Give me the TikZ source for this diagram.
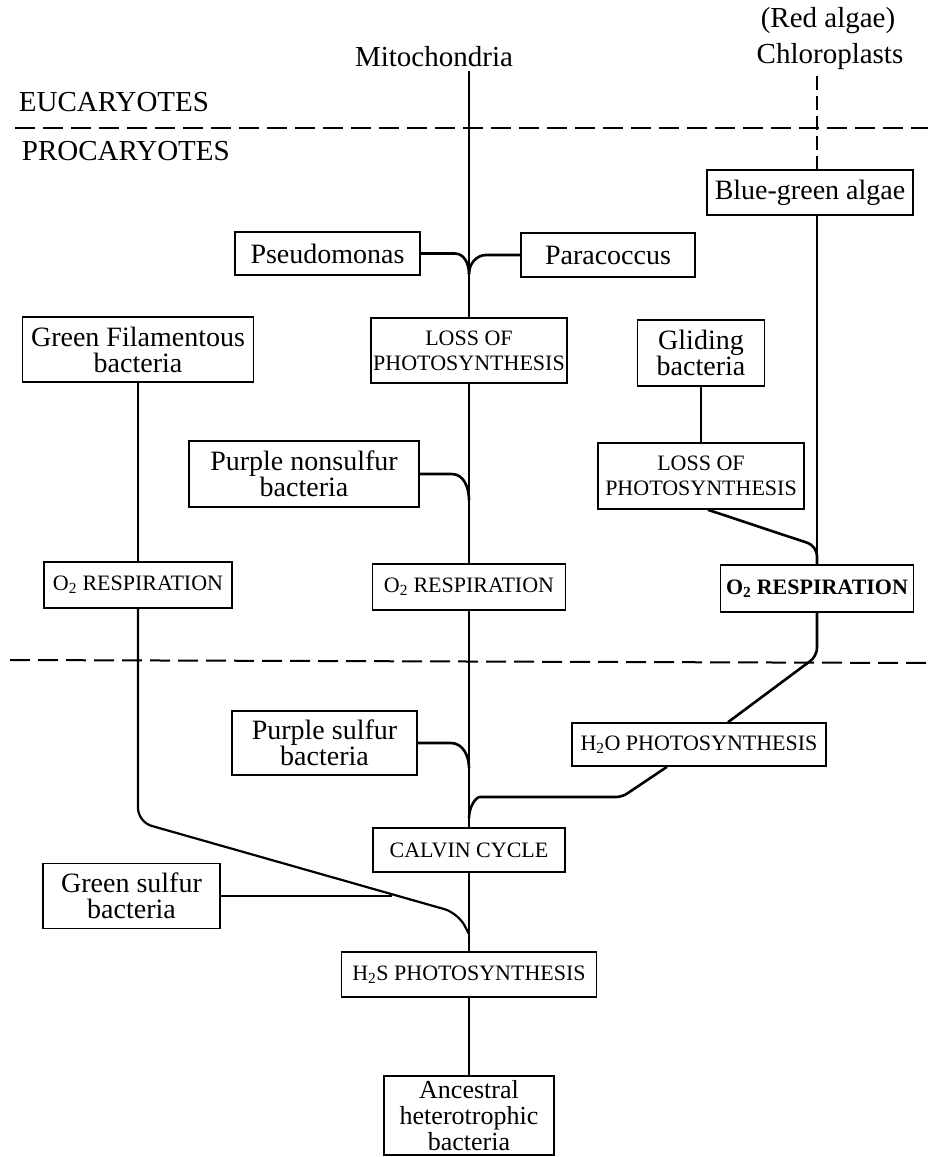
\documentclass[tikz,border=0pt]{standalone}
\usepackage{fontspec}
\setmainfont{Liberation Serif}

\begin{document}
\begin{tikzpicture}[x=1pt,y=-1pt,line width=1.8pt,
    box/.style 2 args={draw,line width=1.6pt,minimum width=#1,minimum height=#2,inner sep=1pt,align=center},
    namebox/.style 2 args={box={#1}{#2},font=\fontsize{28}{26}\selectfont},
    capsbox/.style 2 args={box={#1}{#2},font=\fontsize{22}{25}\selectfont},
    heading/.style={inner sep=0pt,font=\fontsize{29}{29}\selectfont},
    branch/.style={line width=2.6pt},
    divider/.style={line width=2pt,dash pattern=on 20pt off 8pt},
    chlorodash/.style={line width=1.5pt,dash pattern=on 14pt off 6pt}]
    \useasboundingbox (0,0) rectangle (928,1157);

    % headings
    \node[heading] (redalgae) at (828,21) {(Red algae)};
    \node[heading] (chloro)   at (830,57) {Chloroplasts};
    \node[heading] (mito)     at (434,57) {Mitochondria};
    \node[heading,anchor=west] (euc)  at (18,102) {EUCARYOTES};
    \node[heading,anchor=west] (proc) at (21,151) {PROCARYOTES};

    \draw[divider] (15,128) -- (928,128);
    \draw[divider] (10,660) -- (928,663);

    % boxes
    \node[namebox={206}{45}]  (bluegreen)  at (810,192.5) {Blue-green algae};
    \node[namebox={185}{43}]  (pseudo)     at (327.5,253.5) {Pseudomonas};
    \node[namebox={174}{44}]  (para)       at (608,255) {Paracoccus};
    \node[namebox={231}{65}]  (greenfil)   at (138,349.5) {Green Filamentous\\bacteria};
    \node[capsbox={196}{65}]  (lossmid)    at (469,350.5) {LOSS OF\\PHOTOSYNTHESIS};
    \node[namebox={127}{66}]  (gliding)    at (701,353) {Gliding\\bacteria};
    \node[namebox={230}{66}]  (purplens)   at (304,474) {Purple nonsulfur\\bacteria};
    \node[capsbox={206}{66}]  (lossright)  at (701,476) {LOSS OF\\PHOTOSYNTHESIS};
    \node[capsbox={188}{46}]  (o2left)     at (138,585) {O\textsubscript{2} RESPIRATION};
    \node[capsbox={193}{46}]  (o2mid)      at (469,587) {O\textsubscript{2} RESPIRATION};
    \node[capsbox={193}{47},font=\fontsize{22}{25}\selectfont\bfseries] (o2right) at (817,588.5) {O\textsubscript{2} RESPIRATION};
    \node[namebox={185}{64}]  (purplesulf) at (324.5,743) {Purple sulfur\\bacteria};
    \node[capsbox={254}{43}]  (h2o)        at (699,744.5) {H\textsubscript{2}O PHOTOSYNTHESIS};
    \node[capsbox={192}{44}]  (calvin)     at (469,850) {CALVIN CYCLE};
    \node[namebox={177}{65}]  (greensulf)  at (131.5,896) {Green sulfur\\bacteria};
    \node[capsbox={255}{45}]  (h2s)        at (469,974.5) {H\textsubscript{2}S PHOTOSYNTHESIS};
    \node[namebox={170}{79},font=\fontsize{26}{26}\selectfont] (ancestral) at (469,1115.5) {Ancestral\\heterotrophic\\bacteria};

    % junctions
    \coordinate (mtop) at (469,71);
    \coordinate (ctop) at (817,76);
    \coordinate (jtop) at (469,274);
    \coordinate (jns)  at (469,500);
    \coordinate (jps)  at (469,768);
    \coordinate (jh2o) at (469,818);
    \coordinate (jgs)  at (469,934);
    \coordinate (gsj)  at (392,896);

    % middle line
    \draw[line width=1.5pt] (mtop) -- (jtop);
    \draw[branch] (pseudo.east) -- ++(34,0) to[out=0,in=90] (jtop);
    \draw[branch] (para.west) -- ++(-34,0) to[out=180,in=90] (jtop);
    \draw (jtop) -- (lossmid.north);
    \draw (lossmid.south) -- (o2mid.north);
    \draw[branch] (purplens.east) -- ++(32,0) to[out=0,in=90] (jns);
    \draw (o2mid.south) -- (calvin.north);
    \draw[branch] (purplesulf.east) -- ++(33,0) to[out=0,in=90] (jps);
    \draw (calvin.south) -- (h2s.north);
    \draw[line width=1.5pt] (h2s.south) -- (ancestral.north);

    % right line
    \draw[chlorodash] (ctop) -- (ctop |- bluegreen.north);
    \draw (ctop |- bluegreen.south) -- (o2right.north);
    \draw (gliding.south) -- (lossright.north);
    \draw[branch,rounded corners=10pt] ([xshift=7pt]lossright.south) -- (817,546) -- (o2right.north);
    \draw[branch,rounded corners=8pt] (o2right.south) -- (817,656) -- ([xshift=29pt]h2o.north);
    \draw[branch,rounded corners=6pt] ([xshift=-32pt]h2o.south) -- (622,797) -- (486,797) to[out=180,in=90] (jh2o);

    % left line
    \draw (greenfil.south) -- (o2left.north);
    \draw[line width=2.2pt,rounded corners=14pt] (o2left.south) -- (138,822) -- (458,913) -- (jgs);
    \draw (greensulf.east) -- (gsj);
\end{tikzpicture}
\end{document}
